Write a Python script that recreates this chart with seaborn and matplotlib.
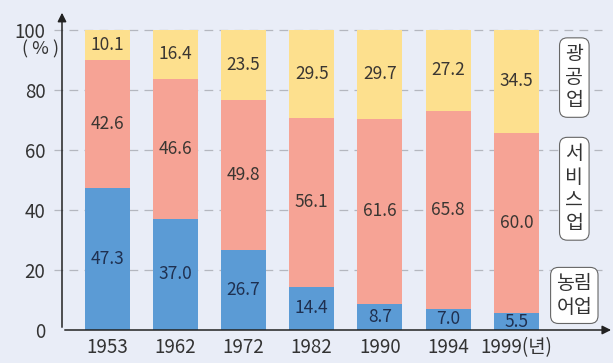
import matplotlib
matplotlib.use("Agg")
import matplotlib.pyplot as plt
import seaborn as sns
import pandas as pd
import numpy as np

years = ["1953", "1962", "1972", "1982", "1990", "1994", "1999"]
agri = [47.3, 37.0, 26.7, 14.4, 8.7, 7.0, 5.5]
service = [42.6, 46.6, 49.8, 56.1, 61.6, 65.8, 60.0]
industry = [10.1, 16.4, 23.5, 29.5, 29.7, 27.2, 34.5]
yticks = [0, 20, 40, 60, 80, 100]
sector_labels = ["광\n공\n업", "서\n비\n스\n업", "농림\n어업"]

sns.set_theme(style="white")
plt.rcParams['font.family'] = ['Noto Sans CJK KR', 'DejaVu Sans']
plt.rcParams['font.weight'] = 300

bg = "#e9edf7"
c_agri = "#5b9bd5"
c_serv = "#f6a395"
c_ind = "#fde08e"
txt_blue = "#1f3050"
txt_other = "#3a3632"

df = pd.DataFrame({"year": years, "agri": agri, "service": service, "industry": industry})
df["b_serv"] = df["agri"]
df["b_ind"] = df["agri"] + df["service"]

fig = plt.figure(figsize=(6.13, 3.63), dpi=100, facecolor=bg)
ax = fig.add_axes([62/613, 33/363, 543/613, 302/363])
ax.set_facecolor(bg)

for val, bot, col in [("agri", None, c_agri), ("service", "b_serv", c_serv), ("industry", "b_ind", c_ind)]:
    kw = {}
    if bot:
        kw["bottom"] = df[bot].values
    sns.barplot(data=df, x="year", y=val, color=col, width=0.66, ax=ax,
                saturation=1, linewidth=0, zorder=3, **kw)

for i in range(len(years)):
    segs = [(0, agri[i], txt_blue), (agri[i], service[i], txt_other),
            (agri[i] + service[i], industry[i], txt_other)]
    for b, v, c in segs:
        ax.text(i, b + v / 2, f"{v:.1f}", ha="center", va="center", fontsize=12.5,
                color=c, zorder=5, fontweight=300)

ax.set_xlim(-0.66, 7.3)
ax.set_ylim(0, 100.5)
ax.set_yticks(yticks)
ax.set_yticklabels([str(t) for t in yticks], fontsize=13.5, color="#333333", fontweight=300)
ax.set_xticks(range(len(years)))
ax.set_xticklabels(years[:-1] + ["1999(년)"], fontsize=13.5, color="#333333", fontweight=300)
ax.set_xlabel("")
ax.set_ylabel("")
ax.tick_params(axis="x", length=0, pad=5)
ax.tick_params(axis="y", length=0, pad=12)
for t in yticks[1:]:
    ax.axhline(t, xmin=-0.015, xmax=0.995, color="#b4b7bf", lw=0.9, ls=(0, (7, 5)), zorder=1, clip_on=False)

for s in ["top", "right", "left", "bottom"]:
    ax.spines[s].set_visible(False)

# axes arrows
ax.annotate("", xy=(7.43, 0), xytext=(-0.66, 0),
            arrowprops=dict(arrowstyle="-|>", color="#222222", lw=1.1, mutation_scale=13),
            annotation_clip=False, zorder=6)
ax.annotate("", xy=(-0.66, 106.5), xytext=(-0.66, 0),
            arrowprops=dict(arrowstyle="-|>", color="#222222", lw=1.1, mutation_scale=13),
            annotation_clip=False, zorder=6)

ax.text(-0.97, 93.3, "( % )", ha="center", va="center", fontsize=13, color="#333333", fontweight=300)

for lab, y in zip(sector_labels, [84, 47, 11.5]):
    ax.text(6.85, y, lab, ha="center", va="center", fontsize=14, color="#333333",
            linespacing=1.15, zorder=6, fontweight=300,
            bbox=dict(boxstyle="round,pad=0.3,rounding_size=0.4", fc="white", ec="#666666", lw=0.8))

fig.savefig("out.png", dpi=100, facecolor=bg)
